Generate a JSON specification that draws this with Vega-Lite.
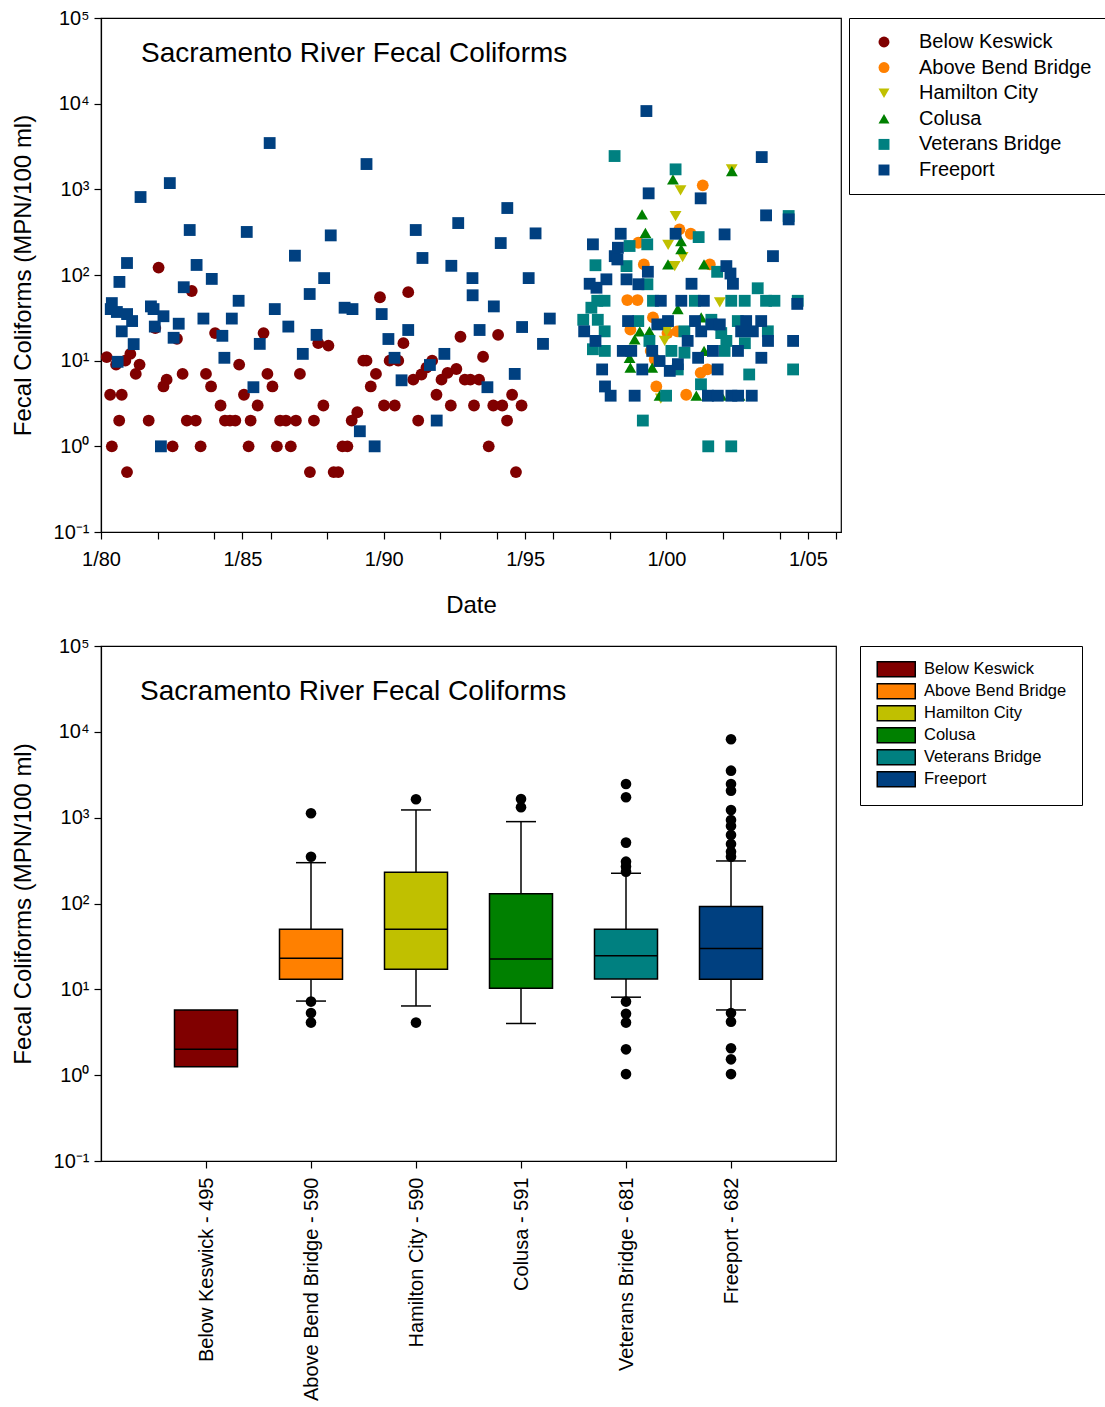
{
  "$schema": "https://vega.github.io/schema/vega-lite/v6.json",
  "padding": {"left": 10, "top": 7, "right": 0, "bottom": 0},
  "background": "white",
  "config": {
    "font": "Liberation Sans",
    "view": {"stroke": "black", "strokeWidth": 1.2},
    "axis": {"grid": false, "domainColor": "black", "domainWidth": 1.2, "tickColor": "black", "tickWidth": 1.2, "tickSize": 7, "labelColor": "black", "titleColor": "black", "labelFontSize": 20, "titleFontSize": 24, "titleFontWeight": "normal", "labelFont": "Liberation Sans", "titleFont": "Liberation Sans", "labelLimit": 400},
    "legend": {"labelFont": "Liberation Sans", "labelColor": "black", "strokeColor": "black", "fillColor": "white", "labelLimit": 400},
    "title": {"font": "Liberation Sans", "fontWeight": "normal", "color": "black"}
  },
  "datasets": {
    "pts": [
      {"station": "Below Keswick", "date": "1980-03-15", "fc": 11},
      {"station": "Below Keswick", "date": "1980-04-28", "fc": 4},
      {"station": "Below Keswick", "date": "1980-05-20", "fc": 1},
      {"station": "Below Keswick", "date": "1980-07-14", "fc": 9},
      {"station": "Below Keswick", "date": "1980-08-23", "fc": 2},
      {"station": "Below Keswick", "date": "1980-09-25", "fc": 4},
      {"station": "Below Keswick", "date": "1980-11-10", "fc": 10},
      {"station": "Below Keswick", "date": "1980-12-02", "fc": 0.5},
      {"station": "Below Keswick", "date": "1981-01-14", "fc": 12},
      {"station": "Below Keswick", "date": "1981-03-25", "fc": 7},
      {"station": "Below Keswick", "date": "1981-05-13", "fc": 9},
      {"station": "Below Keswick", "date": "1981-09-08", "fc": 2},
      {"station": "Below Keswick", "date": "1981-12-02", "fc": 24},
      {"station": "Below Keswick", "date": "1982-01-14", "fc": 122},
      {"station": "Below Keswick", "date": "1982-03-18", "fc": 5},
      {"station": "Below Keswick", "date": "1982-04-28", "fc": 6},
      {"station": "Below Keswick", "date": "1982-07-14", "fc": 1},
      {"station": "Below Keswick", "date": "1982-09-08", "fc": 18},
      {"station": "Below Keswick", "date": "1982-11-20", "fc": 7},
      {"station": "Below Keswick", "date": "1983-01-14", "fc": 2},
      {"station": "Below Keswick", "date": "1983-03-18", "fc": 65},
      {"station": "Below Keswick", "date": "1983-05-09", "fc": 2},
      {"station": "Below Keswick", "date": "1983-07-11", "fc": 1},
      {"station": "Below Keswick", "date": "1983-09-18", "fc": 7},
      {"station": "Below Keswick", "date": "1983-11-23", "fc": 5},
      {"station": "Below Keswick", "date": "1984-01-14", "fc": 21},
      {"station": "Below Keswick", "date": "1984-03-25", "fc": 3},
      {"station": "Below Keswick", "date": "1984-05-20", "fc": 2},
      {"station": "Below Keswick", "date": "1984-07-24", "fc": 2},
      {"station": "Below Keswick", "date": "1984-10-01", "fc": 2},
      {"station": "Below Keswick", "date": "1984-11-20", "fc": 9},
      {"station": "Below Keswick", "date": "1985-01-21", "fc": 4},
      {"station": "Below Keswick", "date": "1985-03-22", "fc": 1},
      {"station": "Below Keswick", "date": "1985-04-17", "fc": 2},
      {"station": "Below Keswick", "date": "1985-07-17", "fc": 3},
      {"station": "Below Keswick", "date": "1985-10-01", "fc": 21},
      {"station": "Below Keswick", "date": "1985-11-20", "fc": 7},
      {"station": "Below Keswick", "date": "1986-01-24", "fc": 5},
      {"station": "Below Keswick", "date": "1986-03-22", "fc": 1},
      {"station": "Below Keswick", "date": "1986-05-03", "fc": 2},
      {"station": "Below Keswick", "date": "1986-07-17", "fc": 2},
      {"station": "Below Keswick", "date": "1986-09-18", "fc": 1},
      {"station": "Below Keswick", "date": "1986-11-23", "fc": 2},
      {"station": "Below Keswick", "date": "1987-01-14", "fc": 7},
      {"station": "Below Keswick", "date": "1987-05-23", "fc": 0.5},
      {"station": "Below Keswick", "date": "1987-07-14", "fc": 2},
      {"station": "Below Keswick", "date": "1987-09-08", "fc": 16},
      {"station": "Below Keswick", "date": "1987-11-13", "fc": 3},
      {"station": "Below Keswick", "date": "1988-01-17", "fc": 15},
      {"station": "Below Keswick", "date": "1988-03-25", "fc": 0.5},
      {"station": "Below Keswick", "date": "1988-05-23", "fc": 0.5},
      {"station": "Below Keswick", "date": "1988-07-17", "fc": 1},
      {"station": "Below Keswick", "date": "1988-09-18", "fc": 1},
      {"station": "Below Keswick", "date": "1988-11-13", "fc": 2},
      {"station": "Below Keswick", "date": "1989-01-24", "fc": 2.5},
      {"station": "Below Keswick", "date": "1989-04-11", "fc": 10},
      {"station": "Below Keswick", "date": "1989-05-23", "fc": 10},
      {"station": "Below Keswick", "date": "1989-07-17", "fc": 5},
      {"station": "Below Keswick", "date": "1989-09-22", "fc": 7},
      {"station": "Below Keswick", "date": "1989-11-13", "fc": 55},
      {"station": "Below Keswick", "date": "1990-01-04", "fc": 3},
      {"station": "Below Keswick", "date": "1990-03-18", "fc": 10},
      {"station": "Below Keswick", "date": "1990-05-23", "fc": 3},
      {"station": "Below Keswick", "date": "1990-07-07", "fc": 10},
      {"station": "Below Keswick", "date": "1990-09-12", "fc": 16},
      {"station": "Below Keswick", "date": "1990-11-13", "fc": 63},
      {"station": "Below Keswick", "date": "1991-01-17", "fc": 6},
      {"station": "Below Keswick", "date": "1991-03-22", "fc": 2},
      {"station": "Below Keswick", "date": "1991-05-03", "fc": 6.9},
      {"station": "Below Keswick", "date": "1991-07-07", "fc": 8.3},
      {"station": "Below Keswick", "date": "1991-09-18", "fc": 10},
      {"station": "Below Keswick", "date": "1991-11-13", "fc": 4},
      {"station": "Below Keswick", "date": "1992-01-17", "fc": 6},
      {"station": "Below Keswick", "date": "1992-04-04", "fc": 7.2},
      {"station": "Below Keswick", "date": "1992-05-16", "fc": 3},
      {"station": "Below Keswick", "date": "1992-07-27", "fc": 8},
      {"station": "Below Keswick", "date": "1992-09-18", "fc": 19},
      {"station": "Below Keswick", "date": "1992-11-13", "fc": 6},
      {"station": "Below Keswick", "date": "1993-01-24", "fc": 6},
      {"station": "Below Keswick", "date": "1993-03-12", "fc": 3},
      {"station": "Below Keswick", "date": "1993-05-16", "fc": 6},
      {"station": "Below Keswick", "date": "1993-07-07", "fc": 11.1},
      {"station": "Below Keswick", "date": "1993-09-18", "fc": 1},
      {"station": "Below Keswick", "date": "1993-11-16", "fc": 3},
      {"station": "Below Keswick", "date": "1994-01-17", "fc": 20},
      {"station": "Below Keswick", "date": "1994-03-12", "fc": 3},
      {"station": "Below Keswick", "date": "1994-05-13", "fc": 2},
      {"station": "Below Keswick", "date": "1994-07-17", "fc": 4},
      {"station": "Below Keswick", "date": "1994-09-05", "fc": 0.5},
      {"station": "Below Keswick", "date": "1994-11-16", "fc": 3},
      {"station": "Above Bend Bridge", "date": "2001-04-14", "fc": 1113},
      {"station": "Above Bend Bridge", "date": "2000-06-16", "fc": 341},
      {"station": "Above Bend Bridge", "date": "2000-11-10", "fc": 303},
      {"station": "Above Bend Bridge", "date": "1999-01-02", "fc": 238},
      {"station": "Above Bend Bridge", "date": "1999-03-15", "fc": 133},
      {"station": "Above Bend Bridge", "date": "2001-07-14", "fc": 133},
      {"station": "Above Bend Bridge", "date": "1998-08-13", "fc": 51},
      {"station": "Above Bend Bridge", "date": "1998-12-23", "fc": 51},
      {"station": "Above Bend Bridge", "date": "1999-07-11", "fc": 32},
      {"station": "Above Bend Bridge", "date": "1998-09-22", "fc": 23},
      {"station": "Above Bend Bridge", "date": "2000-05-20", "fc": 22},
      {"station": "Above Bend Bridge", "date": "2000-01-14", "fc": 21},
      {"station": "Above Bend Bridge", "date": "1999-06-12", "fc": 13},
      {"station": "Above Bend Bridge", "date": "1999-08-03", "fc": 10.4},
      {"station": "Above Bend Bridge", "date": "2001-06-14", "fc": 7.9},
      {"station": "Above Bend Bridge", "date": "2001-03-18", "fc": 7.2},
      {"station": "Above Bend Bridge", "date": "1999-08-23", "fc": 5},
      {"station": "Above Bend Bridge", "date": "2000-09-12", "fc": 4},
      {"station": "Hamilton City", "date": "2002-04-23", "fc": 1711},
      {"station": "Hamilton City", "date": "2000-07-01", "fc": 973},
      {"station": "Hamilton City", "date": "2000-04-28", "fc": 488},
      {"station": "Hamilton City", "date": "2000-01-23", "fc": 224},
      {"station": "Hamilton City", "date": "2000-07-28", "fc": 162},
      {"station": "Hamilton City", "date": "2000-04-17", "fc": 127},
      {"station": "Hamilton City", "date": "2001-11-20", "fc": 48},
      {"station": "Hamilton City", "date": "2000-01-01", "fc": 22},
      {"station": "Hamilton City", "date": "1999-12-09", "fc": 17},
      {"station": "Hamilton City", "date": "1999-10-20", "fc": 3.6},
      {"station": "Colusa", "date": "2002-04-25", "fc": 1635},
      {"station": "Colusa", "date": "2000-03-25", "fc": 1308},
      {"station": "Colusa", "date": "1999-02-20", "fc": 511},
      {"station": "Colusa", "date": "1999-04-04", "fc": 311},
      {"station": "Colusa", "date": "2000-07-07", "fc": 249},
      {"station": "Colusa", "date": "2000-07-09", "fc": 200},
      {"station": "Colusa", "date": "2000-01-21", "fc": 133},
      {"station": "Colusa", "date": "2001-04-30", "fc": 133},
      {"station": "Colusa", "date": "2000-05-26", "fc": 40},
      {"station": "Colusa", "date": "2001-03-25", "fc": 32},
      {"station": "Colusa", "date": "1999-01-21", "fc": 22},
      {"station": "Colusa", "date": "1999-05-26", "fc": 22},
      {"station": "Colusa", "date": "1998-11-16", "fc": 17.7},
      {"station": "Colusa", "date": "1998-09-12", "fc": 10.8},
      {"station": "Colusa", "date": "1998-09-22", "fc": 8.3},
      {"station": "Colusa", "date": "1999-07-01", "fc": 8.3},
      {"station": "Colusa", "date": "2001-01-21", "fc": 3.9},
      {"station": "Colusa", "date": "2002-08-03", "fc": 3.9},
      {"station": "Colusa", "date": "2001-12-09", "fc": 3.9},
      {"station": "Colusa", "date": "1999-10-04", "fc": 3.9},
      {"station": "Colusa", "date": "2001-05-01", "fc": 13},
      {"station": "Veterans Bridge", "date": "1998-03-02", "fc": 2447},
      {"station": "Veterans Bridge", "date": "2000-04-28", "fc": 1711},
      {"station": "Veterans Bridge", "date": "2004-04-28", "fc": 488},
      {"station": "Veterans Bridge", "date": "1999-04-28", "fc": 228},
      {"station": "Veterans Bridge", "date": "2001-02-20", "fc": 277},
      {"station": "Veterans Bridge", "date": "1998-09-12", "fc": 218},
      {"station": "Veterans Bridge", "date": "1997-06-28", "fc": 130},
      {"station": "Veterans Bridge", "date": "1998-08-03", "fc": 127},
      {"station": "Veterans Bridge", "date": "2001-10-17", "fc": 109},
      {"station": "Veterans Bridge", "date": "2003-03-25", "fc": 70},
      {"station": "Veterans Bridge", "date": "1999-04-30", "fc": 78},
      {"station": "Veterans Bridge", "date": "1997-10-23", "fc": 50},
      {"station": "Veterans Bridge", "date": "1997-07-21", "fc": 50},
      {"station": "Veterans Bridge", "date": "1999-07-11", "fc": 50},
      {"station": "Veterans Bridge", "date": "2001-01-02", "fc": 50},
      {"station": "Veterans Bridge", "date": "2002-04-17", "fc": 50},
      {"station": "Veterans Bridge", "date": "2002-10-08", "fc": 50},
      {"station": "Veterans Bridge", "date": "2003-07-11", "fc": 50},
      {"station": "Veterans Bridge", "date": "2003-10-27", "fc": 50},
      {"station": "Veterans Bridge", "date": "2004-08-23", "fc": 50},
      {"station": "Veterans Bridge", "date": "1997-05-06", "fc": 41.5},
      {"station": "Veterans Bridge", "date": "1997-01-21", "fc": 30},
      {"station": "Veterans Bridge", "date": "1997-07-28", "fc": 30},
      {"station": "Veterans Bridge", "date": "1999-01-02", "fc": 29},
      {"station": "Veterans Bridge", "date": "2001-08-03", "fc": 30},
      {"station": "Veterans Bridge", "date": "2002-07-11", "fc": 29},
      {"station": "Veterans Bridge", "date": "1997-10-25", "fc": 22},
      {"station": "Veterans Bridge", "date": "2000-08-19", "fc": 22},
      {"station": "Veterans Bridge", "date": "2001-12-09", "fc": 21},
      {"station": "Veterans Bridge", "date": "2003-08-03", "fc": 22},
      {"station": "Veterans Bridge", "date": "2002-02-13", "fc": 17},
      {"station": "Veterans Bridge", "date": "2002-10-10", "fc": 16},
      {"station": "Veterans Bridge", "date": "1997-05-26", "fc": 13.6},
      {"station": "Veterans Bridge", "date": "1997-10-27", "fc": 13},
      {"station": "Veterans Bridge", "date": "1999-05-26", "fc": 17},
      {"station": "Veterans Bridge", "date": "2000-03-05", "fc": 13},
      {"station": "Veterans Bridge", "date": "2000-08-21", "fc": 12.4},
      {"station": "Veterans Bridge", "date": "2002-01-21", "fc": 13},
      {"station": "Veterans Bridge", "date": "2000-05-26", "fc": 7.9},
      {"station": "Veterans Bridge", "date": "2002-12-05", "fc": 6.9},
      {"station": "Veterans Bridge", "date": "2004-06-24", "fc": 7.9},
      {"station": "Veterans Bridge", "date": "2001-03-22", "fc": 5.3},
      {"station": "Veterans Bridge", "date": "1999-12-27", "fc": 3.9},
      {"station": "Veterans Bridge", "date": "1999-03-02", "fc": 2},
      {"station": "Veterans Bridge", "date": "2001-06-24", "fc": 1},
      {"station": "Veterans Bridge", "date": "2002-04-17", "fc": 1},
      {"station": "Freeport", "date": "1980-05-06", "fc": 40},
      {"station": "Freeport", "date": "1980-05-20", "fc": 47},
      {"station": "Freeport", "date": "1980-07-24", "fc": 37},
      {"station": "Freeport", "date": "1980-08-03", "fc": 9.7},
      {"station": "Freeport", "date": "1980-08-26", "fc": 83},
      {"station": "Freeport", "date": "1980-09-25", "fc": 22},
      {"station": "Freeport", "date": "1980-12-02", "fc": 138},
      {"station": "Freeport", "date": "1980-12-03", "fc": 35},
      {"station": "Freeport", "date": "1981-02-06", "fc": 29},
      {"station": "Freeport", "date": "1981-02-26", "fc": 15.6},
      {"station": "Freeport", "date": "1981-05-26", "fc": 813},
      {"station": "Freeport", "date": "1981-10-07", "fc": 43},
      {"station": "Freeport", "date": "1981-11-10", "fc": 40},
      {"station": "Freeport", "date": "1981-11-26", "fc": 25},
      {"station": "Freeport", "date": "1982-02-13", "fc": 1},
      {"station": "Freeport", "date": "1982-03-18", "fc": 33},
      {"station": "Freeport", "date": "1982-06-08", "fc": 1183},
      {"station": "Freeport", "date": "1982-07-27", "fc": 18.5},
      {"station": "Freeport", "date": "1982-10-01", "fc": 27},
      {"station": "Freeport", "date": "1982-12-05", "fc": 72},
      {"station": "Freeport", "date": "1983-02-20", "fc": 335},
      {"station": "Freeport", "date": "1983-05-20", "fc": 131},
      {"station": "Freeport", "date": "1983-08-16", "fc": 31},
      {"station": "Freeport", "date": "1983-12-02", "fc": 90},
      {"station": "Freeport", "date": "1984-04-17", "fc": 19.5},
      {"station": "Freeport", "date": "1984-05-13", "fc": 10.8},
      {"station": "Freeport", "date": "1984-08-17", "fc": 31},
      {"station": "Freeport", "date": "1984-11-13", "fc": 50},
      {"station": "Freeport", "date": "1985-02-26", "fc": 318},
      {"station": "Freeport", "date": "1985-05-23", "fc": 4.9},
      {"station": "Freeport", "date": "1985-08-13", "fc": 15.7},
      {"station": "Freeport", "date": "1985-12-19", "fc": 3470},
      {"station": "Freeport", "date": "1986-02-23", "fc": 40},
      {"station": "Freeport", "date": "1986-08-17", "fc": 25},
      {"station": "Freeport", "date": "1986-11-10", "fc": 168},
      {"station": "Freeport", "date": "1987-02-20", "fc": 12},
      {"station": "Freeport", "date": "1987-05-20", "fc": 60},
      {"station": "Freeport", "date": "1987-08-17", "fc": 20},
      {"station": "Freeport", "date": "1987-11-23", "fc": 92},
      {"station": "Freeport", "date": "1988-02-16", "fc": 290},
      {"station": "Freeport", "date": "1988-08-13", "fc": 41.5},
      {"station": "Freeport", "date": "1988-11-23", "fc": 40},
      {"station": "Freeport", "date": "1989-02-26", "fc": 1.5},
      {"station": "Freeport", "date": "1989-05-23", "fc": 1973},
      {"station": "Freeport", "date": "1989-09-05", "fc": 1},
      {"station": "Freeport", "date": "1989-12-05", "fc": 35},
      {"station": "Freeport", "date": "1990-03-02", "fc": 17.9},
      {"station": "Freeport", "date": "1990-05-20", "fc": 10.8},
      {"station": "Freeport", "date": "1990-08-19", "fc": 5.9},
      {"station": "Freeport", "date": "1990-11-13", "fc": 22.8},
      {"station": "Freeport", "date": "1991-02-18", "fc": 335},
      {"station": "Freeport", "date": "1991-05-16", "fc": 158},
      {"station": "Freeport", "date": "1991-08-20", "fc": 8.9},
      {"station": "Freeport", "date": "1991-11-16", "fc": 2},
      {"station": "Freeport", "date": "1992-02-23", "fc": 12},
      {"station": "Freeport", "date": "1992-05-23", "fc": 128},
      {"station": "Freeport", "date": "1992-08-20", "fc": 404},
      {"station": "Freeport", "date": "1993-02-20", "fc": 92},
      {"station": "Freeport", "date": "1993-02-22", "fc": 58},
      {"station": "Freeport", "date": "1993-05-23", "fc": 22.8},
      {"station": "Freeport", "date": "1993-09-01", "fc": 4.9},
      {"station": "Freeport", "date": "1993-11-23", "fc": 43},
      {"station": "Freeport", "date": "1994-02-20", "fc": 236},
      {"station": "Freeport", "date": "1994-05-16", "fc": 605},
      {"station": "Freeport", "date": "1994-08-20", "fc": 7},
      {"station": "Freeport", "date": "1994-11-23", "fc": 24.7},
      {"station": "Freeport", "date": "1995-02-16", "fc": 92},
      {"station": "Freeport", "date": "1995-05-16", "fc": 306},
      {"station": "Freeport", "date": "1995-08-20", "fc": 15.7},
      {"station": "Freeport", "date": "1995-11-16", "fc": 31},
      {"station": "Freeport", "date": "2003-05-16", "fc": 2380},
      {"station": "Freeport", "date": "1999-04-17", "fc": 8200},
      {"station": "Freeport", "date": "1999-05-16", "fc": 898},
      {"station": "Freeport", "date": "2001-03-18", "fc": 785},
      {"station": "Freeport", "date": "2003-07-11", "fc": 497},
      {"station": "Freeport", "date": "2004-04-28", "fc": 446},
      {"station": "Freeport", "date": "1998-05-20", "fc": 303},
      {"station": "Freeport", "date": "2000-04-28", "fc": 303},
      {"station": "Freeport", "date": "2002-01-21", "fc": 298},
      {"station": "Freeport", "date": "1997-05-26", "fc": 228},
      {"station": "Freeport", "date": "1998-04-14", "fc": 208},
      {"station": "Freeport", "date": "1998-03-04", "fc": 166},
      {"station": "Freeport", "date": "1998-04-07", "fc": 152},
      {"station": "Freeport", "date": "2003-10-08", "fc": 166},
      {"station": "Freeport", "date": "1999-05-06", "fc": 109},
      {"station": "Freeport", "date": "2002-02-13", "fc": 127},
      {"station": "Freeport", "date": "2002-04-07", "fc": 104},
      {"station": "Freeport", "date": "2002-05-09", "fc": 79},
      {"station": "Freeport", "date": "1997-04-14", "fc": 79},
      {"station": "Freeport", "date": "1997-11-16", "fc": 89},
      {"station": "Freeport", "date": "1998-08-03", "fc": 89},
      {"station": "Freeport", "date": "1999-01-04", "fc": 78},
      {"station": "Freeport", "date": "2000-11-20", "fc": 79},
      {"station": "Freeport", "date": "1997-07-11", "fc": 71},
      {"station": "Freeport", "date": "1999-10-20", "fc": 50},
      {"station": "Freeport", "date": "2000-07-11", "fc": 50},
      {"station": "Freeport", "date": "2001-04-28", "fc": 50},
      {"station": "Freeport", "date": "2004-08-17", "fc": 46},
      {"station": "Freeport", "date": "1998-08-23", "fc": 29},
      {"station": "Freeport", "date": "1999-09-05", "fc": 26.5},
      {"station": "Freeport", "date": "2000-01-21", "fc": 29},
      {"station": "Freeport", "date": "2001-01-04", "fc": 29},
      {"station": "Freeport", "date": "2001-08-05", "fc": 26.5},
      {"station": "Freeport", "date": "2001-11-20", "fc": 26.5},
      {"station": "Freeport", "date": "2002-10-27", "fc": 29},
      {"station": "Freeport", "date": "2003-05-09", "fc": 29},
      {"station": "Freeport", "date": "1997-02-02", "fc": 22},
      {"station": "Freeport", "date": "2001-03-25", "fc": 22},
      {"station": "Freeport", "date": "2002-08-23", "fc": 22},
      {"station": "Freeport", "date": "2003-01-21", "fc": 22},
      {"station": "Freeport", "date": "1997-06-28", "fc": 17},
      {"station": "Freeport", "date": "2000-10-01", "fc": 17},
      {"station": "Freeport", "date": "2003-08-05", "fc": 17},
      {"station": "Freeport", "date": "2004-06-24", "fc": 17},
      {"station": "Freeport", "date": "1998-06-16", "fc": 13},
      {"station": "Freeport", "date": "1998-10-03", "fc": 13},
      {"station": "Freeport", "date": "1999-07-01", "fc": 13},
      {"station": "Freeport", "date": "1999-10-04", "fc": 9.9},
      {"station": "Freeport", "date": "2001-02-13", "fc": 10.8},
      {"station": "Freeport", "date": "2001-08-23", "fc": 13},
      {"station": "Freeport", "date": "2002-07-13", "fc": 13},
      {"station": "Freeport", "date": "2003-05-11", "fc": 10.8},
      {"station": "Freeport", "date": "1997-09-22", "fc": 7.9},
      {"station": "Freeport", "date": "1999-02-23", "fc": 7.9},
      {"station": "Freeport", "date": "2000-02-13", "fc": 7.6},
      {"station": "Freeport", "date": "2000-05-28", "fc": 9.1},
      {"station": "Freeport", "date": "2001-10-23", "fc": 7.9},
      {"station": "Freeport", "date": "1997-10-29", "fc": 5},
      {"station": "Freeport", "date": "1998-01-10", "fc": 3.9},
      {"station": "Freeport", "date": "1998-11-16", "fc": 3.9},
      {"station": "Freeport", "date": "2001-06-20", "fc": 3.9},
      {"station": "Freeport", "date": "2001-10-25", "fc": 3.9},
      {"station": "Freeport", "date": "2002-04-19", "fc": 3.9},
      {"station": "Freeport", "date": "2002-07-15", "fc": 3.9},
      {"station": "Freeport", "date": "2003-01-07", "fc": 3.9}
    ],
    "boxes": [
      {"station": "Below Keswick", "site": "Below Keswick - 495", "q1": 1.25, "median": 2.0, "q3": 5.75, "lo": null, "hi": null},
      {"station": "Above Bend Bridge", "site": "Above Bend Bridge - 590", "q1": 13.1, "median": 23, "q3": 50, "lo": 7.3, "hi": 299},
      {"station": "Hamilton City", "site": "Hamilton City - 590", "q1": 17.1, "median": 50, "q3": 231, "lo": 6.4, "hi": 1230},
      {"station": "Colusa", "site": "Colusa - 591", "q1": 10.3, "median": 22.6, "q3": 130, "lo": 4.0, "hi": 899},
      {"station": "Veterans Bridge", "site": "Veterans Bridge - 681", "q1": 13.2, "median": 24.7, "q3": 50, "lo": 8.1, "hi": 225},
      {"station": "Freeport", "site": "Freeport - 682", "q1": 13.1, "median": 30, "q3": 92, "lo": 5.75, "hi": 313}
    ],
    "outliers": [
      {"site": "Above Bend Bridge - 590", "fc": 1125},
      {"site": "Above Bend Bridge - 590", "fc": 351},
      {"site": "Above Bend Bridge - 590", "fc": 7.2},
      {"site": "Above Bend Bridge - 590", "fc": 5.3},
      {"site": "Above Bend Bridge - 590", "fc": 4.1},
      {"site": "Hamilton City - 590", "fc": 1638},
      {"site": "Hamilton City - 590", "fc": 4.1},
      {"site": "Colusa - 591", "fc": 1652},
      {"site": "Colusa - 591", "fc": 1322},
      {"site": "Veterans Bridge - 681", "fc": 2471},
      {"site": "Veterans Bridge - 681", "fc": 1730},
      {"site": "Veterans Bridge - 681", "fc": 512},
      {"site": "Veterans Bridge - 681", "fc": 307},
      {"site": "Veterans Bridge - 681", "fc": 269},
      {"site": "Veterans Bridge - 681", "fc": 235},
      {"site": "Veterans Bridge - 681", "fc": 7.2},
      {"site": "Veterans Bridge - 681", "fc": 5.2},
      {"site": "Veterans Bridge - 681", "fc": 4.1},
      {"site": "Veterans Bridge - 681", "fc": 2.0},
      {"site": "Veterans Bridge - 681", "fc": 1.03},
      {"site": "Freeport - 682", "fc": 8190},
      {"site": "Freeport - 682", "fc": 3530},
      {"site": "Freeport - 682", "fc": 2470},
      {"site": "Freeport - 682", "fc": 2065},
      {"site": "Freeport - 682", "fc": 1230},
      {"site": "Freeport - 682", "fc": 940},
      {"site": "Freeport - 682", "fc": 800},
      {"site": "Freeport - 682", "fc": 629},
      {"site": "Freeport - 682", "fc": 494},
      {"site": "Freeport - 682", "fc": 402},
      {"site": "Freeport - 682", "fc": 351},
      {"site": "Freeport - 682", "fc": 5.3},
      {"site": "Freeport - 682", "fc": 4.2},
      {"site": "Freeport - 682", "fc": 2.06},
      {"site": "Freeport - 682", "fc": 1.53},
      {"site": "Freeport - 682", "fc": 1.03}
    ]
  },
  "resolve": {"scale": {"color": "independent", "shape": "independent"}, "legend": {"color": "independent", "shape": "independent"}},
  "concat": [
    {
      "width": 740,
      "height": 514,
      "title": {"text": "Sacramento River Fecal Coliforms", "anchor": "start", "frame": "group", "orient": "top", "baseline": "alphabetic", "offset": -82, "dx": 40, "fontSize": 28},
      "data": {"name": "pts"},
      "mark": {"type": "point", "filled": true, "size": 140, "opacity": 1},
      "encoding": {
        "x": {
          "field": "date", "type": "temporal",
          "scale": {"type": "utc", "domain": [{"year": 1980, "month": 1, "date": 1, "utc": true}, {"year": 2006, "month": 3, "date": 5, "utc": true}]},
          "axis": {
            "title": "Date", "titlePadding": 24, "labelPadding": 10, "labelFlush": false, "labelOverlap": false,
            "values": [
              {"year": 1980, "month": 1, "date": 1, "utc": true},
              {"year": 1982, "month": 1, "date": 1, "utc": true},
              {"year": 1984, "month": 1, "date": 1, "utc": true},
              {"year": 1985, "month": 1, "date": 1, "utc": true},
              {"year": 1986, "month": 1, "date": 1, "utc": true},
              {"year": 1988, "month": 1, "date": 1, "utc": true},
              {"year": 1990, "month": 1, "date": 1, "utc": true},
              {"year": 1992, "month": 1, "date": 1, "utc": true},
              {"year": 1994, "month": 1, "date": 1, "utc": true},
              {"year": 1995, "month": 1, "date": 1, "utc": true},
              {"year": 1996, "month": 1, "date": 1, "utc": true},
              {"year": 1998, "month": 1, "date": 1, "utc": true},
              {"year": 2000, "month": 1, "date": 1, "utc": true},
              {"year": 2002, "month": 1, "date": 1, "utc": true},
              {"year": 2004, "month": 1, "date": 1, "utc": true},
              {"year": 2005, "month": 1, "date": 1, "utc": true},
              {"year": 2006, "month": 1, "date": 1, "utc": true}
            ],
            "labelExpr": "utcyear(datum.value) % 5 == 0 && utcyear(datum.value) < 2006 ? utcFormat(datum.value, '%-m/%y') : ''"
          }
        },
        "y": {
          "field": "fc", "type": "quantitative",
          "scale": {"type": "log", "domain": [0.1, 100000]},
          "axis": {
            "title": "Fecal Coliforms (MPN/100 ml)", "titlePadding": 18, "labelPadding": 5,
            "values": [0.1, 1, 10, 100, 1000, 10000, 100000],
            "labelExpr": "'10' + ['⁻¹','⁰','¹','²','³','⁴','⁵'][round(log(datum.value)/LN10) + 1]"
          }
        },
        "color": {
          "field": "station", "type": "nominal",
          "scale": {"domain": ["Below Keswick", "Above Bend Bridge", "Hamilton City", "Colusa", "Veterans Bridge", "Freeport"], "range": ["#800000", "#FF8000", "#C0C000", "#008000", "#008080", "#004080"]},
          "legend": {"title": null, "orient": "right", "offset": 8, "padding": 14, "labelFontSize": 20, "symbolSize": 120, "rowPadding": 5.6, "symbolOffset": 11, "labelOffset": 25, "strokeColor": "black"}
        },
        "shape": {
          "field": "station", "type": "nominal",
          "scale": {"domain": ["Below Keswick", "Above Bend Bridge", "Hamilton City", "Colusa", "Veterans Bridge", "Freeport"], "range": ["circle", "circle", "triangle-down", "triangle-up", "square", "square"]},
          "legend": {"title": null, "orient": "right", "offset": 8, "padding": 14, "labelFontSize": 20, "symbolSize": 120, "rowPadding": 5.6, "symbolOffset": 11, "labelOffset": 25, "strokeColor": "black"}
        }
      }
    },
    {
      "width": 735,
      "height": 515,
      "title": {"text": "Sacramento River Fecal Coliforms", "anchor": "start", "frame": "group", "orient": "top", "baseline": "alphabetic", "offset": -92, "dx": 39, "fontSize": 28},
      "layer": [
        {
          "data": {"name": "boxes"},
          "mark": {"type": "rule", "color": "black", "strokeWidth": 1.5},
          "encoding": {
            "x": {"field": "site", "type": "nominal", "sort": null, "scale": {"type": "point", "padding": 1, "domain": ["Below Keswick - 495", "Above Bend Bridge - 590", "Hamilton City - 590", "Colusa - 591", "Veterans Bridge - 681", "Freeport - 682"]}, "axis": {"title": null, "labelAngle": -90, "labelPadding": 9, "labelFontSize": 20, "labelLimit": 400}},
            "y": {"field": "lo", "type": "quantitative", "scale": {"type": "log", "domain": [0.1, 100000]}, "axis": {"title": "Fecal Coliforms (MPN/100 ml)", "titlePadding": 18, "labelPadding": 5, "values": [0.1, 1, 10, 100, 1000, 10000, 100000], "labelExpr": "'10' + ['⁻¹','⁰','¹','²','³','⁴','⁵'][round(log(datum.value)/LN10) + 1]"}},
            "y2": {"field": "hi"}
          }
        },
        {
          "data": {"name": "boxes"},
          "mark": {"type": "bar", "size": 63, "stroke": "black", "strokeWidth": 1.5},
          "encoding": {
            "x": {"field": "site", "type": "nominal"},
            "y": {"field": "q1", "type": "quantitative"},
            "y2": {"field": "q3"},
            "color": {
              "field": "station", "type": "nominal",
              "scale": {"domain": ["Below Keswick", "Above Bend Bridge", "Hamilton City", "Colusa", "Veterans Bridge", "Freeport"], "range": ["#800000", "#FF8000", "#C0C000", "#008000", "#008080", "#004080"]},
              "legend": {"title": null, "orient": "right", "offset": 24, "padding": 15, "labelFontSize": 16.5, "symbolType": "M-3.1667,-1.2667H3.1667V1.2667H-3.1667Z", "symbolSize": 144, "symbolStrokeColor": "black", "symbolStrokeWidth": 1.5, "symbolOpacity": 1, "symbolOffset": 13, "rowPadding": 0, "labelOffset": 19.5, "strokeColor": "black"}
            }
          }
        },
        {
          "data": {"name": "boxes"},
          "mark": {"type": "tick", "size": 63, "thickness": 1.5, "color": "black", "opacity": 1},
          "encoding": {
            "x": {"field": "site", "type": "nominal"},
            "y": {"field": "median", "type": "quantitative"}
          }
        },
        {
          "data": {"name": "boxes"},
          "mark": {"type": "tick", "size": 30, "thickness": 1.5, "color": "black", "opacity": 1},
          "encoding": {
            "x": {"field": "site", "type": "nominal"},
            "y": {"field": "lo", "type": "quantitative"}
          }
        },
        {
          "data": {"name": "boxes"},
          "mark": {"type": "tick", "size": 30, "thickness": 1.5, "color": "black", "opacity": 1},
          "encoding": {
            "x": {"field": "site", "type": "nominal"},
            "y": {"field": "hi", "type": "quantitative"}
          }
        },
        {
          "data": {"name": "outliers"},
          "mark": {"type": "circle", "size": 113, "color": "black", "opacity": 1},
          "encoding": {
            "x": {"field": "site", "type": "nominal"},
            "y": {"field": "fc", "type": "quantitative"}
          }
        }
      ]
    }
  ],
  "columns": 1,
  "align": "none",
  "spacing": 17
}
